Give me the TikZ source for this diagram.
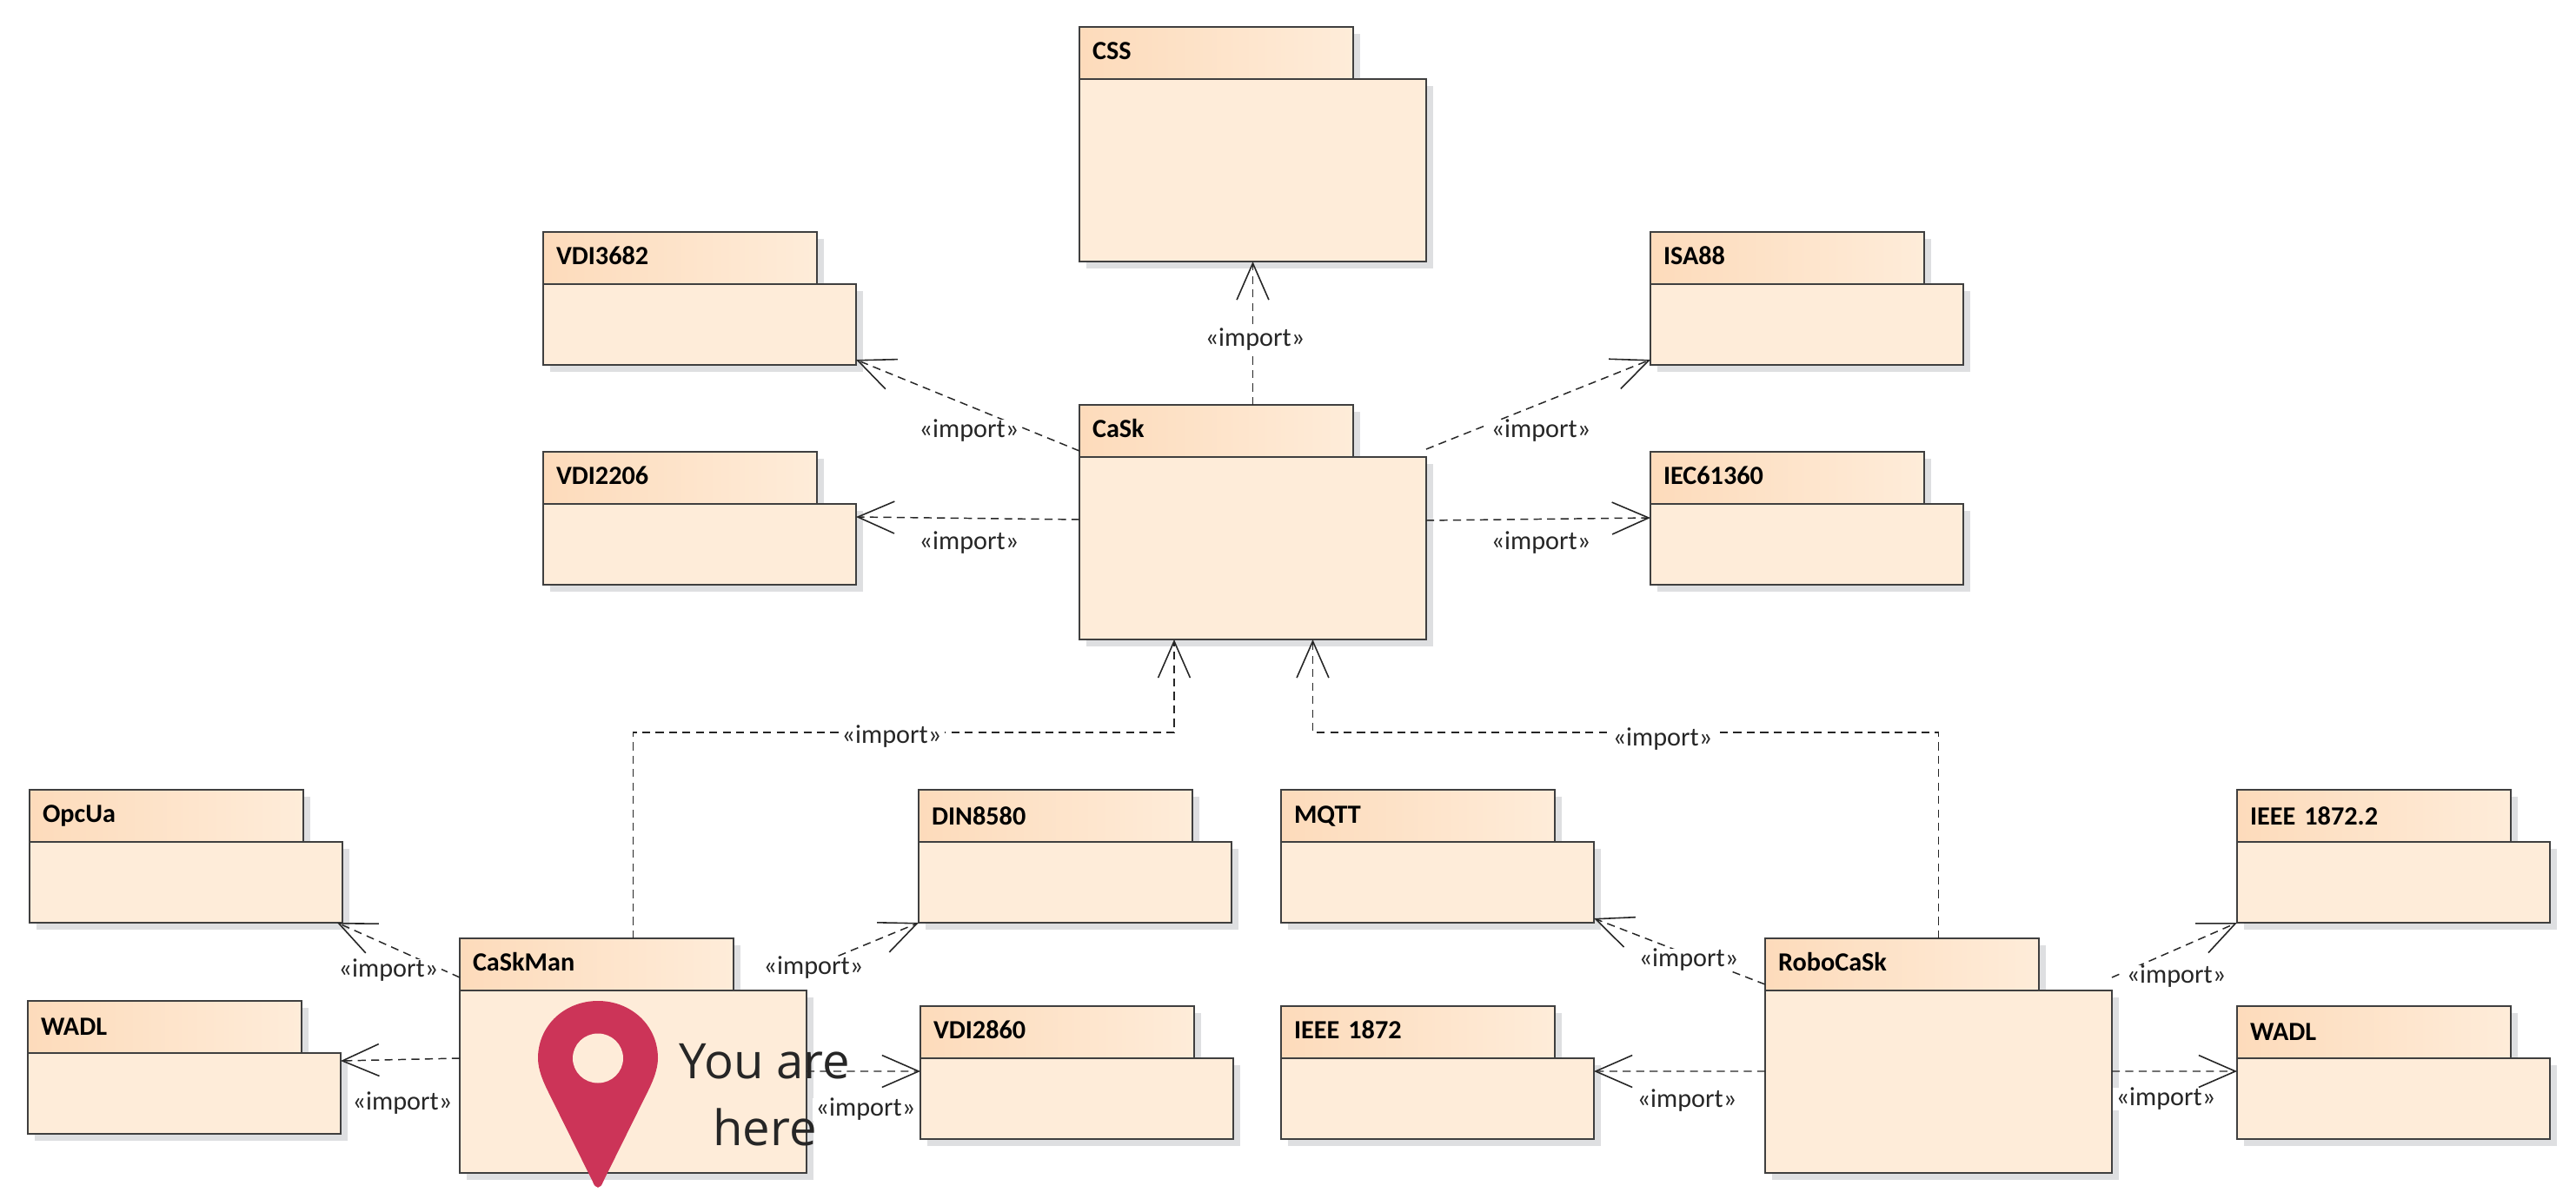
\documentclass[tikz,border=0pt]{standalone}
\usepackage{fontspec}
\setmainfont{Carlito}
\newfontfamily\pinfont{Open Sans}
\usepackage{tikz}
\usetikzlibrary{arrows.meta,calc,shadows}
\definecolor{pkgfill}{HTML}{FEECD9}
\definecolor{pkgdeep}{HTML}{FDDBBB}
\definecolor{pkgline}{HTML}{3F3F3F}
\definecolor{pkgshade}{HTML}{DEDFE1}
\definecolor{pinred}{HTML}{CC3458}

\begin{document}
\begin{tikzpicture}[
      pkgbox/.style={draw=pkgline, line width=0.55pt, outer sep=0pt, anchor=north west,
        drop shadow={shadow xshift=0.8mm, shadow yshift=-0.8mm, fill=pkgshade, opacity=1}},
      pkgtab/.style={pkgbox, left color=pkgdeep, right color=pkgfill, minimum height=6mm,
        text width=28.5mm, inner xsep=1.5mm, inner ysep=0pt, align=left, font=\fontsize{8.6}{10}\selectfont\bfseries},
      pkgbody/.style={pkgbox, fill=pkgfill, minimum width=36mm, minimum height=9.3mm, inner sep=0pt},
      bigbody/.style={pkgbody, minimum width=39.9mm, minimum height=21mm},
      imp/.style={draw=black!85, line width=0.42pt, dash pattern=on 2.6pt off 1.8pt,
        -{Straight Barb[length=12pt, width=10.5pt, line width=0.45pt]}},
      implabel/.style={fill=white, inner xsep=1pt, inner ysep=0pt, font=\fontsize{8.6}{10}\selectfont, text=black!85},
    ]
    \useasboundingbox (0,0) rectangle (29.64,-13.8);

    \node[pkgtab] (csstab) at (12.42,-0.31) {\raisebox{1.5pt}{CSS}};
    \node[bigbody] (cssbody) at (csstab.south west) {};
    \node[pkgtab] (casktab) at (12.42,-4.66) {\raisebox{1.5pt}{CaSk}};
    \node[bigbody] (caskbody) at (casktab.south west) {};
    \node[pkgtab] (vdi3682tab) at (6.25,-2.67) {\raisebox{1.5pt}{VDI3682}};
    \node[pkgbody] (vdi3682body) at (vdi3682tab.south west) {};
    \node[pkgtab] (vdi2206tab) at (6.25,-5.20) {\raisebox{1.5pt}{VDI2206}};
    \node[pkgbody] (vdi2206body) at (vdi2206tab.south west) {};
    \node[pkgtab] (isa88tab) at (18.99,-2.67) {\raisebox{1.5pt}{ISA88}};
    \node[pkgbody] (isa88body) at (isa88tab.south west) {};
    \node[pkgtab] (iectab) at (18.99,-5.20) {\raisebox{1.5pt}{IEC61360}};
    \node[pkgbody] (iecbody) at (iectab.south west) {};
    \node[pkgtab] (opcuatab) at (0.34,-9.09) {OpcUa};
    \node[pkgbody] (opcuabody) at (opcuatab.south west) {};
    \node[pkgtab] (wadlltab) at (0.32,-11.52) {WADL};
    \node[pkgbody] (wadllbody) at (wadlltab.south west) {};
    \node[pkgtab] (caskmantab) at (5.29,-10.80) {\raisebox{1.5pt}{CaSkMan}};
    \node[bigbody] (caskmanbody) at (caskmantab.south west) {};
    \node[pkgtab] (dintab) at (10.57,-9.09) {DIN8580};
    \node[pkgbody] (dinbody) at (dintab.south west) {};
    \node[pkgtab] (vdi2860tab) at (10.59,-11.58) {\raisebox{1.5pt}{VDI2860}};
    \node[pkgbody] (vdi2860body) at (vdi2860tab.south west) {};
    \node[pkgtab] (mqtttab) at (14.74,-9.09) {MQTT};
    \node[pkgbody] (mqttbody) at (mqtttab.south west) {};
    \node[pkgtab] (ieeetab) at (14.74,-11.58) {\raisebox{1.5pt}{IEEE 1872}};
    \node[pkgbody] (ieeebody) at (ieeetab.south west) {};
    \node[pkgtab] (robotab) at (20.31,-10.80) {\raisebox{1.5pt}{RoboCaSk}};
    \node[bigbody] (robobody) at (robotab.south west) {};
    \node[pkgtab] (ieeettab) at (25.74,-9.09) {IEEE 1872.2};
    \node[pkgbody] (ieeetbody) at (ieeettab.south west) {};
    \node[pkgtab] (wadlrtab) at (25.74,-11.58) {WADL};
    \node[pkgbody] (wadlrbody) at (wadlrtab.south west) {};

    \draw[imp] (cssbody.south |- casktab.north) -- (cssbody.south);
    \draw[imp] ($(casktab.south west)+(0,.07)$) -- ($(vdi3682body.south east)+(0,.06)$);
    \draw[imp] ($(caskbody.north west)+(0,-.72)$) -- ($(vdi2206body.north east)+(0,-.15)$);
    \draw[imp] ($(caskbody.north east)+(0,.09)$) -- ($(isa88body.south west)+(0,.06)$);
    \draw[imp] ($(caskbody.north east)+(0,-.73)$) -- ($(iecbody.north west)+(0,-.16)$);
    \draw[imp] (caskmanbody.north |- caskmantab.north) -- ++(0,2.37) -| ($(caskbody.south)+(-.905,0)$);
    \draw[imp] (robobody.north |- robotab.north) -- ++(0,2.37) -| ($(caskbody.south)+(.69,0)$);
    \draw[imp] ($(caskmantab.west)+(0,-.15)$) -- ($(opcuabody.south east)+(-.06,0)$);
    \draw[imp] ($(caskmanbody.north west)+(0,-.78)$) -- ($(wadllbody.north east)+(0,-.09)$);
    \coordinate (dinstart) at (9.36,-11.12);
    \draw[imp] (dinstart) -- (dinbody.south west);
    \draw[imp] ($(caskmanbody.north east)+(0,-.93)$) -- ($(vdi2860body.north west)+(0,-.15)$);
    \draw[imp] ($(robotab.south west)+(0,.07)$) -- ($(mqttbody.south east)+(0,.05)$);
    \draw[imp] ($(robobody.north west)+(0,-.93)$) -- ($(ieeebody.north east)+(0,-.15)$);
    \draw[imp] ($(robobody.north east)+(0,.15)$) -- (ieeetbody.south west);
    \draw[imp] ($(robobody.north east)+(0,-.93)$) -- ($(wadlrbody.north west)+(0,-.15)$);

    \node[implabel] (lblcss) at (14.44,-3.91) {«import»};
    \node[implabel] (lblvdia) at (11.15,-4.96) {«import»};
    \node[implabel] (lblvdib) at (11.15,-6.25) {«import»};
    \node[implabel] (lblisa) at (17.73,-4.96) {«import»};
    \node[implabel] (lbliec) at (17.73,-6.25) {«import»};
    \node[implabel] (lblman) at (10.26,-8.48) {«import»};
    \node[implabel] (lblrobo) at (19.13,-8.51) {«import»};
    \node[implabel] (lblopc) at (4.47,-11.17) {«import»};
    \node[implabel] (lblwadll) at (4.63,-12.70) {«import»};
    \node[implabel] (lbldin) at (9.36,-11.14) {«import»};
    \node[implabel] (lblvdic) at (9.96,-12.77) {«import»};
    \node[implabel] (lblmqtt) at (19.43,-11.05) {«import»};
    \node[implabel] (lblieee) at (19.41,-12.67) {«import»};
    \node[implabel] (lblieeet) at (25.04,-11.24) {«import»};
    \node[implabel] (lblwadlr) at (24.92,-12.65) {«import»};

    \fill[pinred] (6.19,-12.18) .. controls (6.19,-11.80) and (6.50,-11.52) .. (6.88,-11.52)
      .. controls (7.26,-11.52) and (7.57,-11.80) .. (7.57,-12.18)
      .. controls (7.57,-12.32) and (7.50,-12.47) .. (7.45,-12.57)
      -- (6.94,-13.60) .. controls (6.91,-13.69) and (6.85,-13.69) .. (6.82,-13.60)
      -- (6.31,-12.57) .. controls (6.26,-12.47) and (6.19,-12.32) .. (6.19,-12.18) -- cycle;
    \fill[pkgfill] (6.88,-12.18) ellipse (.29 and .285);
    \node[font=\pinfont\fontsize{16}{21.8}\selectfont, text=black!85, align=center, inner sep=0pt] (pinlabel) at (8.80,-12.60) {You are\\here};
  \end{tikzpicture}
\end{document}
